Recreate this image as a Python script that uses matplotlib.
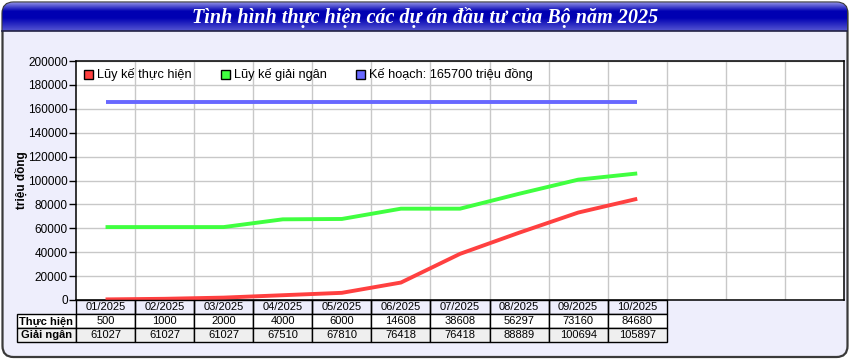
import numpy as np
import matplotlib
matplotlib.use("Agg")
import matplotlib.pyplot as plt
from matplotlib.patches import FancyBboxPatch, Rectangle

plt.rcParams['font.family'] = ['Liberation Sans', 'DejaVu Sans']

# ---- data ----
months = ["01/2025", "02/2025", "03/2025", "04/2025", "05/2025",
          "06/2025", "07/2025", "08/2025", "09/2025", "10/2025"]
thuc_hien = [500, 1000, 2000, 4000, 6000, 14608, 38608, 56297, 73160, 84680]
giai_ngan = [61027, 61027, 61027, 67510, 67810, 76418, 76418, 88889, 100694, 105897]
ke_hoach = 165700
n_slots = 13
title = "Tình hình thực hiện các dự án đầu tư của Bộ năm 2025"
series_names = ["Lũy kế thực hiện", "Lũy kế giải ngân", "Kế hoạch: 165700 triệu đồng"]
row_labels = ["Thực hiện", "Giải ngân"]
ylabel = "triệu đồng"

RED, GREEN, BLUE = "#ff4040", "#40ff40", "#6868ff"
W, H = 850, 360

fig = plt.figure(figsize=(W / 100, H / 100), dpi=100)

# ---- background frame ----
bg = fig.add_axes([0, 0, 1, 1], zorder=0)
bg.set_xlim(0, W); bg.set_ylim(H, 0); bg.axis("off")
frame = FancyBboxPatch((2.5, 2.5), 845, 354.5, boxstyle="round,pad=0,rounding_size=11",
                       fc="#eeeefc", ec="#3a3a3a", lw=1.6)
bg.add_patch(frame)
# gradient title bar
grad = np.concatenate([np.linspace(0, 1, 10), np.ones(6), np.linspace(1, 0.4, 14)])
cols = np.zeros((len(grad), 2, 3))
top = np.array([0.55, 0.55, 0.90]); dark = np.array([0.0, 0.0, 0.70])
for i, g in enumerate(grad):
    cols[i, :, :] = top * (1 - g) + dark * g
im = bg.imshow(cols, extent=(2.5, 847.5, 31, 2.5), aspect="auto", interpolation="bilinear", zorder=1)
im.set_clip_path(frame)
bg.plot([2.5, 847.5], [31, 31], color="#222244", lw=1.2, zorder=2)
bg.text(W / 2, 17.5, title, color="white", ha="center", va="center",
        fontsize=14.5, fontweight="bold", fontstyle="italic",
        family=["Liberation Serif", "DejaVu Serif"], zorder=3)

# ---- main plot ----
L, R, T, B = 76, 844, 61, 300
ax = fig.add_axes([L / W, 1 - B / H, (R - L) / W, (B - T) / H], zorder=1)
x = np.arange(len(months))
ax.plot(x, thuc_hien, color=RED, lw=2.8, solid_capstyle="butt", zorder=3)
ax.plot(x, giai_ngan, color=GREEN, lw=2.8, solid_capstyle="butt", zorder=3)
ax.plot([x[0], x[-1]], [ke_hoach, ke_hoach], color=BLUE, lw=2.8, solid_capstyle="butt", zorder=3)
ax.set_xlim(-0.5, n_slots - 0.5)
ax.set_ylim(0, 200000)
ax.set_yticks(np.arange(0, 200001, 20000))
ax.set_yticklabels([str(v) for v in range(0, 200001, 20000)], fontsize=8.5)
ax.set_xticks(np.arange(0.5, n_slots - 0.5, 1))
ax.tick_params(axis="x", length=0, labelbottom=False)
ax.tick_params(axis="y", length=5, width=1, pad=1)
ax.grid(True, color="#c8c8c8", lw=1)
ax.set_axisbelow(True)
for s in ax.spines.values():
    s.set_color("black"); s.set_linewidth(1.1)
ax.set_ylabel(ylabel, fontsize=8.5, fontweight="bold", labelpad=4)
ax.yaxis.set_label_coords(-0.062, 0.5)

# ---- overlay: legend + table ----
ov = fig.add_axes([0, 0, 1, 1], zorder=2)
ov.set_xlim(0, W); ov.set_ylim(H, 0); ov.axis("off"); ov.patch.set_alpha(0)

leg_x = [84, 221, 356]
for lx, name, c in zip(leg_x, series_names, [RED, GREEN, BLUE]):
    ov.add_patch(Rectangle((lx, 69.5), 9, 9, fc=c, ec="black", lw=1))
    ov.text(lx + 13, 74.5, name, fontsize=9.2, va="center", ha="left")

cw = (R - L) / n_slots
rows_y = [300, 314, 328, 342]
# header row
for i, m in enumerate(months):
    x0 = L + i * cw
    ov.add_patch(Rectangle((x0, rows_y[0]), cw, rows_y[1] - rows_y[0], fc="none", ec="black", lw=1))
    ov.text(x0 + cw / 2, (rows_y[0] + rows_y[1]) / 2 + 0.5, m, fontsize=8, ha="center", va="center")
# data rows
label_x0 = 17
for r, (lab, vals, fc) in enumerate(zip(row_labels, [thuc_hien, giai_ngan], ["white", "#efefef"])):
    y0, y1 = rows_y[r + 1], rows_y[r + 2]
    ov.add_patch(Rectangle((label_x0, y0), L - label_x0, y1 - y0, fc=fc, ec="black", lw=1))
    ov.text((label_x0 + L) / 2, (y0 + y1) / 2 + 0.5, lab, fontsize=8, fontweight="bold",
            ha="center", va="center")
    for i, v in enumerate(vals):
        x0 = L + i * cw
        ov.add_patch(Rectangle((x0, y0), cw, y1 - y0, fc=fc, ec="black", lw=1))
        ov.text(x0 + cw / 2, (y0 + y1) / 2 + 0.5, str(v), fontsize=8, ha="center", va="center")

fig.savefig("out.png", dpi=100)
